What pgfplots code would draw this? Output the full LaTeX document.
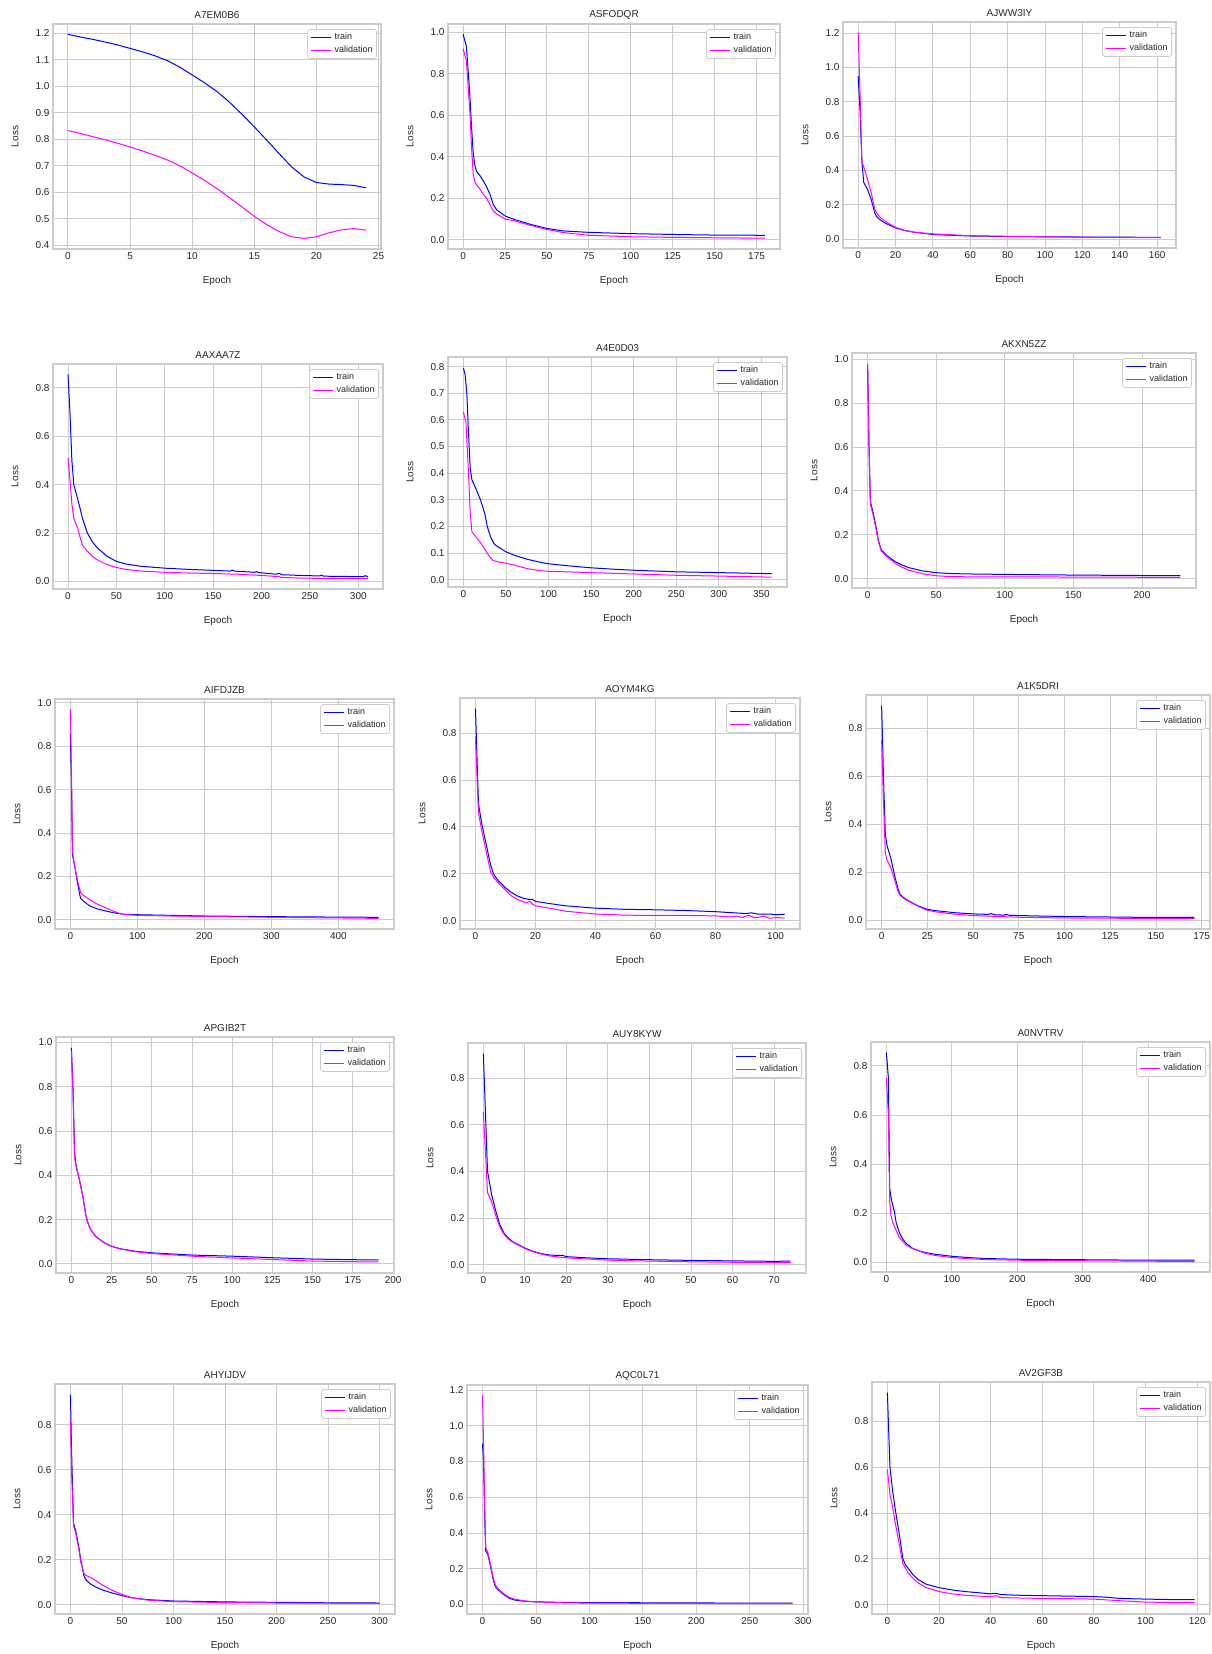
\documentclass[border=0pt]{standalone}
\usepackage{fontspec}
\setmainfont{Liberation Sans}
\usepackage{pgfplots}
\pgfplotsset{compat=1.18}

\definecolor{gridc}{RGB}{204,204,204}
\definecolor{txt}{RGB}{38,38,38}
\definecolor{trc}{RGB}{0,0,255}
\definecolor{vac}{RGB}{255,0,255}

\pgfplotsset{
  lc/.style={
    scale only axis, anchor=south west,
    grid=major,
    major grid style={line width=0.9pt, draw=gridc},
    axis line style={line width=1.1pt, draw=gridc},
    major tick length=0pt, tick style={draw=none},
    /pgf/number format/assume math mode=true,
    tick label style={font=\fontsize{10}{12}\selectfont, text=txt},
    yticklabel={\pgfmathprintnumber[fixed,fixed zerofill,precision=1]{\tick}},
    title style={font=\fontsize{10}{12}\selectfont, text=txt,
      at={([yshift=3pt]axis description cs:0.5,1)}, anchor=center},
    xlabel=Epoch, ylabel=Loss,
    label style={font=\fontsize{10}{12}\selectfont, text=txt},
    xlabel style={at={([yshift=-32pt]axis description cs:0.5,0)}, anchor=center},
    ylabel style={at={([xshift=-38pt]axis description cs:0,0.5)}, anchor=center},
    legend style={at={(1,1)}, anchor=north east, xshift=-4pt, yshift=-5pt,
      draw=gridc, line width=0.8pt, rounded corners=2.5pt, fill=white,
      font=\fontsize{9}{11}\selectfont, text=txt,
      inner xsep=3pt, inner ysep=3pt, row sep=3pt, column sep=2pt,
      nodes={inner sep=1pt}},
    legend cell align=left,
    legend image code/.code={\draw[#1, line width=1pt] (0pt,0pt) -- (20pt,0pt);},
    every axis plot/.append style={line width=1pt, line join=round, mark=none},
  },
  tr/.style={trc}, va/.style={vac},
}

\begin{document}
\begin{tikzpicture}
\useasboundingbox (0,0) rectangle (1211pt,-1654pt);

% row 1
\begin{axis}[lc, at={(53pt,-249pt)}, width=328pt, height=225pt, title=A7EM0B6,
  xmin=-1.2, xmax=25.2, ymin=0.386, ymax=1.235,
  xtick={0,5,10,15,20,25}, ytick={0.4,0.5,0.6,0.7,0.8,0.9,1.0,1.1,1.2}]
\addplot[tr] coordinates {(0,1.196)(1,1.186)(2,1.177)(3,1.167)(4,1.156)(5,1.143)(6,1.13)(7,1.115)(8,1.097)(9,1.072)(10,1.043)(11,1.013)(12,0.98)(13,0.94)(14,0.895)(15,0.847)(16,0.797)(17,0.746)(18,0.696)(19,0.658)(20,0.637)(21,0.631)(22,0.629)(23,0.626)(24,0.617)};
\addplot[va] coordinates {(0,0.833)(1,0.822)(2,0.81)(3,0.798)(4,0.785)(5,0.771)(6,0.756)(7,0.74)(8,0.722)(9,0.7)(10,0.673)(11,0.645)(12,0.614)(13,0.58)(14,0.545)(15,0.509)(16,0.478)(17,0.452)(18,0.432)(19,0.426)(20,0.432)(21,0.447)(22,0.458)(23,0.463)(24,0.457)};
\legend{train,validation}
\end{axis}

\begin{axis}[lc, at={(448pt,-249pt)}, width=332pt, height=225pt, title=ASFODQR,
  xmin=-9, xmax=189, ymin=-0.044, ymax=1.039,
  xtick={0,25,50,75,100,125,150,175}, ytick={0,0.2,0.4,0.6,0.8,1.0}]
\addplot[tr] coordinates {(0,0.99)(2,0.93)(4,0.7)(5,0.55)(6,0.42)(7,0.36)(8,0.33)(10,0.31)(12,0.285)(14,0.255)(16,0.22)(18,0.17)(20,0.145)(25,0.115)(30,0.1)(40,0.075)(50,0.055)(60,0.043)(75,0.036)(100,0.03)(125,0.026)(150,0.023)(180,0.022)};
\addplot[va] coordinates {(0,0.92)(2,0.86)(4,0.62)(5,0.45)(6,0.32)(7,0.28)(8,0.265)(10,0.245)(12,0.22)(14,0.2)(16,0.17)(18,0.14)(20,0.125)(25,0.1)(30,0.093)(40,0.07)(50,0.05)(60,0.035)(75,0.022)(100,0.015)(125,0.012)(150,0.01)(180,0.008)};
\legend{train,validation}
\end{axis}

\begin{axis}[lc, at={(843pt,-248pt)}, width=333pt, height=226pt, title=AJWW3IY,
  xmin=-8.1, xmax=170.1, ymin=-0.052, ymax=1.265,
  xtick={0,20,40,60,80,100,120,140,160}, ytick={0,0.2,0.4,0.6,0.8,1.0,1.2}]
\addplot[tr] coordinates {(0,0.95)(1,0.75)(2,0.45)(3,0.33)(5,0.29)(7,0.23)(9,0.15)(10,0.13)(12,0.11)(15,0.09)(20,0.065)(25,0.05)(30,0.04)(40,0.027)(50,0.022)(60,0.018)(80,0.015)(100,0.013)(120,0.012)(140,0.011)(162,0.01)};
\addplot[va] coordinates {(0,1.205)(1,0.85)(2,0.45)(3,0.42)(5,0.35)(7,0.27)(9,0.17)(10,0.15)(12,0.125)(15,0.1)(20,0.068)(25,0.05)(30,0.04)(40,0.03)(50,0.025)(60,0.02)(80,0.016)(100,0.013)(120,0.011)(140,0.01)(162,0.008)};
\legend{train,validation}
\end{axis}

% row 2
\begin{axis}[lc, at={(53pt,-589pt)}, width=330pt, height=225pt, title=AAXAA7Z,
  xmin=-15.5, xmax=325.5, ymin=-0.031, ymax=0.898,
  xtick={0,50,100,150,200,250,300}, ytick={0,0.2,0.4,0.6,0.8}]
\addplot[tr] coordinates {(0,0.855)(2,0.7)(4,0.5)(6,0.4)(8,0.37)(10,0.34)(12,0.31)(15,0.26)(20,0.2)(25,0.165)(30,0.14)(40,0.105)(50,0.083)(60,0.072)(75,0.063)(100,0.055)(125,0.05)(150,0.046)(168,0.043)(170,0.047)(172,0.043)(193,0.038)(195,0.041)(197,0.037)(215,0.03)(218,0.034)(221,0.028)(240,0.025)(260,0.023)(262,0.026)(264,0.022)(280,0.021)(305,0.02)(307,0.024)(310,0.02)};
\addplot[va] coordinates {(0,0.51)(2,0.42)(4,0.32)(6,0.26)(8,0.24)(10,0.22)(12,0.19)(15,0.15)(20,0.125)(25,0.105)(30,0.09)(40,0.07)(50,0.058)(60,0.05)(75,0.043)(100,0.038)(125,0.035)(150,0.033)(175,0.03)(200,0.025)(218,0.02)(220,0.017)(240,0.014)(260,0.013)(310,0.012)};
\legend{train,validation}
\end{axis}

\begin{axis}[lc, at={(448pt,-587pt)}, width=339pt, height=230pt, title=A4E0D03,
  xmin=-18.1, xmax=380.1, ymin=-0.027, ymax=0.836,
  xtick={0,50,100,150,200,250,300,350}, ytick={0,0.1,0.2,0.3,0.4,0.5,0.6,0.7,0.8}]
\addplot[tr] coordinates {(0,0.795)(2,0.77)(4,0.7)(6,0.55)(8,0.42)(10,0.375)(15,0.34)(20,0.3)(25,0.25)(28,0.2)(32,0.16)(36,0.135)(40,0.125)(50,0.105)(60,0.092)(75,0.077)(90,0.066)(100,0.06)(125,0.052)(150,0.045)(175,0.04)(200,0.036)(250,0.03)(300,0.027)(362,0.023)};
\addplot[va] coordinates {(0,0.63)(3,0.59)(6,0.4)(8,0.25)(10,0.18)(15,0.16)(20,0.14)(25,0.115)(30,0.09)(35,0.072)(40,0.068)(50,0.062)(60,0.055)(75,0.042)(90,0.034)(100,0.032)(150,0.027)(200,0.022)(250,0.017)(300,0.014)(362,0.01)};
\legend{train,validation}
\end{axis}

\begin{axis}[lc, at={(852pt,-588pt)}, width=344pt, height=235pt, title=AKXN5ZZ,
  xmin=-11.4, xmax=239.4, ymin=-0.043, ymax=1.029,
  xtick={0,50,100,150,200}, ytick={0,0.2,0.4,0.6,0.8,1.0}]
\addplot[tr] coordinates {(0,0.975)(1,0.6)(2,0.35)(4,0.3)(6,0.24)(8,0.17)(10,0.13)(15,0.1)(20,0.078)(25,0.062)(30,0.05)(40,0.035)(50,0.027)(60,0.023)(75,0.021)(100,0.019)(150,0.016)(200,0.014)(228,0.013)};
\addplot[va] coordinates {(0,0.98)(1,0.6)(2,0.34)(4,0.29)(6,0.23)(8,0.165)(10,0.125)(15,0.095)(20,0.07)(25,0.052)(30,0.038)(40,0.022)(50,0.013)(60,0.009)(75,0.008)(100,0.008)(150,0.007)(200,0.006)(228,0.006)};
\legend{train,validation}
\end{axis}

% row 3
\begin{axis}[lc, at={(55pt,-929pt)}, width=339pt, height=230pt, title=AIFDJZB,
  xmin=-23, xmax=483, ymin=-0.043, ymax=1.018,
  xtick={0,100,200,300,400}, ytick={0,0.2,0.4,0.6,0.8,1.0}]
\addplot[tr] coordinates {(0,0.86)(2,0.55)(3,0.3)(5,0.27)(8,0.22)(10,0.18)(13,0.13)(15,0.1)(20,0.085)(25,0.072)(30,0.062)(40,0.05)(50,0.042)(60,0.035)(70,0.029)(80,0.025)(100,0.023)(150,0.02)(200,0.017)(300,0.014)(400,0.012)(460,0.011)};
\addplot[va] coordinates {(0,0.97)(2,0.6)(3,0.32)(5,0.27)(8,0.22)(10,0.19)(13,0.15)(16,0.12)(20,0.112)(25,0.1)(30,0.09)(40,0.072)(50,0.058)(60,0.045)(70,0.032)(80,0.024)(100,0.02)(150,0.017)(200,0.015)(300,0.011)(400,0.008)(460,0.006)};
\legend{train,validation}
\end{axis}

\begin{axis}[lc, at={(460pt,-929pt)}, width=340pt, height=231pt, title=AOYM4KG,
  xmin=-5.15, xmax=108.15, ymin=-0.036, ymax=0.95,
  xtick={0,20,40,60,80,100}, ytick={0,0.2,0.4,0.6,0.8}]
\addplot[tr] coordinates {(0,0.905)(1,0.5)(2,0.42)(3,0.36)(4,0.3)(5,0.24)(6,0.2)(7,0.18)(8,0.165)(10,0.14)(12,0.12)(14,0.105)(16,0.095)(18,0.09)(19,0.09)(20,0.082)(25,0.072)(30,0.063)(40,0.053)(50,0.048)(60,0.046)(70,0.043)(80,0.038)(85,0.034)(90,0.03)(92,0.033)(94,0.028)(98,0.028)(100,0.025)(103,0.027)};
\addplot[va] coordinates {(0,0.785)(1,0.46)(2,0.39)(3,0.33)(4,0.27)(5,0.21)(6,0.185)(7,0.17)(8,0.155)(10,0.13)(12,0.105)(14,0.09)(16,0.08)(17,0.075)(18,0.083)(19,0.07)(20,0.063)(25,0.052)(30,0.04)(40,0.028)(50,0.023)(60,0.022)(70,0.022)(80,0.02)(85,0.016)(87,0.019)(89,0.013)(91,0.023)(93,0.012)(96,0.018)(98,0.01)(101,0.013)(103,0.01)};
\legend{train,validation}
\end{axis}

\begin{axis}[lc, at={(866pt,-929pt)}, width=344pt, height=234pt, title=A1K5DRI,
  xmin=-8.55, xmax=179.55, ymin=-0.036, ymax=0.939,
  xtick={0,25,50,75,100,125,150,175}, ytick={0,0.2,0.4,0.6,0.8}]
\addplot[tr] coordinates {(0,0.895)(1,0.6)(2,0.36)(3,0.31)(5,0.26)(7,0.19)(9,0.13)(10,0.11)(12,0.095)(15,0.08)(20,0.06)(25,0.046)(30,0.04)(40,0.032)(50,0.027)(58,0.025)(60,0.028)(62,0.023)(67,0.022)(68,0.025)(70,0.021)(75,0.02)(100,0.016)(125,0.014)(150,0.012)(171,0.012)};
\addplot[va] coordinates {(0,0.75)(1,0.5)(2,0.28)(3,0.25)(5,0.22)(7,0.17)(9,0.12)(10,0.105)(12,0.092)(15,0.078)(20,0.058)(25,0.042)(30,0.035)(40,0.026)(50,0.02)(75,0.013)(100,0.01)(125,0.009)(150,0.008)(171,0.008)};
\legend{train,validation}
\end{axis}

% row 4
\begin{axis}[lc, at={(56pt,-1273pt)}, width=338pt, height=236pt, title=APGIB2T,
  xmin=-9.55, xmax=200.55, ymin=-0.041, ymax=1.024,
  xtick={0,25,50,75,100,125,150,175,200}, ytick={0,0.2,0.4,0.6,0.8,1.0}]
\addplot[tr] coordinates {(0,0.975)(1,0.8)(2,0.5)(3,0.44)(5,0.38)(7,0.31)(9,0.22)(10,0.19)(12,0.155)(15,0.125)(20,0.097)(25,0.08)(30,0.069)(40,0.057)(50,0.05)(75,0.04)(100,0.035)(125,0.028)(150,0.022)(175,0.019)(191,0.018)};
\addplot[va] coordinates {(0,0.96)(1,0.78)(2,0.48)(3,0.44)(5,0.38)(7,0.31)(9,0.22)(10,0.19)(12,0.155)(15,0.125)(20,0.097)(25,0.079)(30,0.068)(40,0.055)(50,0.047)(75,0.035)(100,0.027)(125,0.02)(150,0.013)(175,0.01)(191,0.009)};
\legend{train,validation}
\end{axis}

\begin{axis}[lc, at={(468pt,-1273pt)}, width=338pt, height=230pt, title=AUY8KYW,
  xmin=-3.7, xmax=77.7, ymin=-0.035, ymax=0.95,
  xtick={0,10,20,30,40,50,60,70}, ytick={0,0.2,0.4,0.6,0.8}]
\addplot[tr] coordinates {(0,0.905)(1,0.4)(2,0.3)(3,0.23)(4,0.17)(5,0.135)(6,0.115)(7,0.1)(8,0.09)(10,0.072)(12,0.058)(14,0.048)(16,0.042)(18,0.04)(19,0.041)(20,0.035)(25,0.03)(30,0.026)(40,0.022)(50,0.019)(60,0.017)(70,0.015)(74,0.016)};
\addplot[va] coordinates {(0,0.655)(1,0.31)(2,0.27)(3,0.21)(4,0.16)(5,0.13)(6,0.11)(7,0.098)(8,0.088)(10,0.07)(12,0.056)(14,0.046)(16,0.038)(18,0.034)(20,0.03)(25,0.025)(30,0.02)(40,0.016)(50,0.013)(60,0.011)(70,0.01)(74,0.01)};
\legend{train,validation}
\end{axis}

\begin{axis}[lc, at={(871pt,-1272pt)}, width=339pt, height=230pt, title=A0NVTRV,
  xmin=-23.55, xmax=494.55, ymin=-0.039, ymax=0.897,
  xtick={0,100,200,300,400}, ytick={0,0.2,0.4,0.6,0.8}]
\addplot[tr] coordinates {(0,0.855)(3,0.75)(5,0.3)(8,0.25)(12,0.21)(15,0.16)(20,0.12)(25,0.095)(30,0.078)(40,0.057)(50,0.047)(60,0.04)(75,0.033)(100,0.025)(125,0.02)(150,0.016)(200,0.013)(300,0.011)(400,0.009)(471,0.009)};
\addplot[va] coordinates {(0,0.75)(3,0.6)(5,0.25)(7,0.19)(10,0.16)(15,0.13)(20,0.1)(25,0.085)(30,0.07)(40,0.056)(50,0.046)(60,0.037)(75,0.028)(100,0.02)(125,0.015)(150,0.012)(200,0.009)(300,0.007)(400,0.005)(471,0.004)};
\legend{train,validation}
\end{axis}

% row 5
\begin{axis}[lc, at={(55pt,-1614pt)}, width=340pt, height=230pt, title=AHYIJDV,
  xmin=-15, xmax=315, ymin=-0.042, ymax=0.982,
  xtick={0,50,100,150,200,250,300}, ytick={0,0.2,0.4,0.6,0.8}]
\addplot[tr] coordinates {(0,0.935)(1,0.7)(3,0.36)(5,0.33)(8,0.26)(10,0.2)(13,0.13)(15,0.11)(20,0.09)(25,0.077)(30,0.067)(40,0.052)(50,0.04)(60,0.03)(75,0.022)(100,0.016)(150,0.012)(200,0.01)(250,0.008)(300,0.007)};
\addplot[va] coordinates {(0,0.82)(1,0.6)(3,0.35)(5,0.32)(8,0.25)(10,0.19)(13,0.14)(15,0.13)(20,0.12)(25,0.105)(30,0.09)(40,0.065)(50,0.045)(60,0.03)(75,0.02)(100,0.013)(150,0.009)(200,0.007)(250,0.006)(300,0.005)};
\legend{train,validation}
\end{axis}

\begin{axis}[lc, at={(467pt,-1614pt)}, width=341pt, height=229pt, title=AQC0L71,
  xmin=-14.5, xmax=304.5, ymin=-0.053, ymax=1.228,
  xtick={0,50,100,150,200,250,300}, ytick={0,0.2,0.4,0.6,0.8,1.0,1.2}]
\addplot[tr] coordinates {(0,0.9)(1,0.8)(2,0.5)(3,0.3)(5,0.28)(8,0.2)(10,0.14)(12,0.1)(15,0.08)(20,0.055)(25,0.035)(30,0.025)(40,0.018)(50,0.015)(75,0.012)(100,0.011)(150,0.01)(200,0.009)(250,0.008)(290,0.008)};
\addplot[va] coordinates {(0,1.17)(1,0.9)(2,0.55)(3,0.32)(5,0.29)(8,0.21)(10,0.15)(12,0.11)(15,0.085)(20,0.06)(25,0.04)(30,0.03)(40,0.02)(50,0.015)(75,0.01)(100,0.008)(150,0.007)(200,0.006)(250,0.005)(290,0.005)};
\legend{train,validation}
\end{axis}

\begin{axis}[lc, at={(872pt,-1614pt)}, width=338pt, height=232pt, title=AV2GF3B,
  xmin=-5.95, xmax=124.95, ymin=-0.04, ymax=0.971,
  xtick={0,20,40,60,80,100,120}, ytick={0,0.2,0.4,0.6,0.8}]
\addplot[tr] coordinates {(0,0.925)(1,0.6)(2,0.5)(3,0.42)(4,0.35)(5,0.28)(6,0.2)(7,0.175)(8,0.16)(10,0.13)(12,0.11)(15,0.09)(20,0.075)(25,0.065)(30,0.058)(40,0.048)(42,0.05)(44,0.045)(50,0.042)(60,0.04)(70,0.038)(80,0.036)(85,0.033)(90,0.028)(100,0.025)(110,0.023)(119,0.023)};
\addplot[va] coordinates {(0,0.59)(1,0.48)(2,0.43)(3,0.36)(4,0.3)(5,0.24)(6,0.18)(7,0.16)(8,0.14)(10,0.115)(12,0.095)(15,0.075)(20,0.058)(25,0.048)(30,0.042)(40,0.035)(42,0.04)(44,0.032)(50,0.03)(60,0.028)(70,0.027)(80,0.025)(90,0.018)(100,0.012)(110,0.01)(119,0.01)};
\legend{train,validation}
\end{axis}
\end{tikzpicture}
\end{document}
